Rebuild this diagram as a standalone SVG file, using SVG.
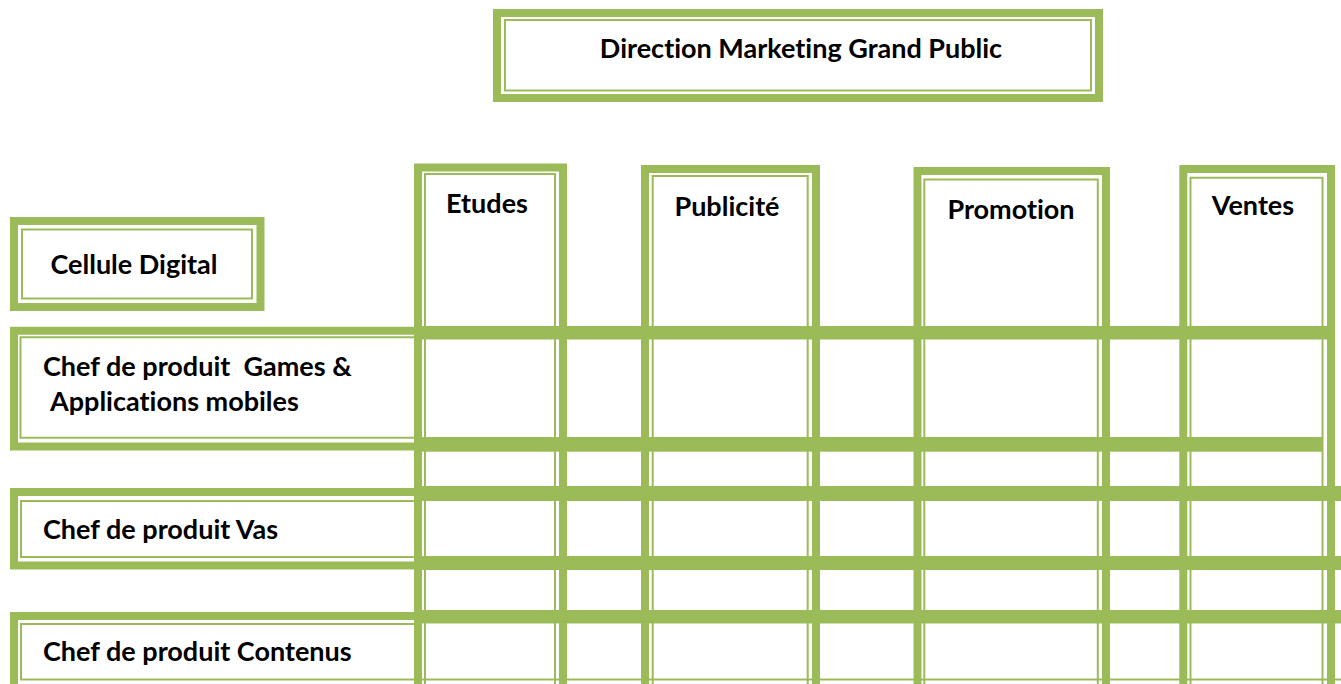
<svg xmlns="http://www.w3.org/2000/svg" width="1341" height="684" viewBox="0 0 1341 684">
  <style>
    .thick { fill: none; stroke: #9BBB59; stroke-width: 8; }
    .thin { fill: none; stroke: #9BBB59; stroke-width: 2; }
    .band { fill: #9BBB59; }
    .lbl { font-family: Lato, "Liberation Sans", sans-serif; font-weight: bold; font-size: 27px; fill: #000; font-variant-ligatures: none; font-feature-settings: "liga" 0; }
    .mid { text-anchor: middle; }
  </style>
  <rect width="1341" height="684" fill="#fff"/>

  <!-- thin inner rules (drawn first so the thick bands cover them) -->
  <g id="thin-rules">
    <!-- columns -->
    <path class="thin" d="M425 700 V174 H555 V700"/>
    <path class="thin" d="M652.7 700 V176 H807.7 V700"/>
    <path class="thin" d="M924.3 700 V179.5 H1097.8 V700"/>
    <path class="thin" d="M1190.5 700 V177.8 H1322.5 V700"/>
    <!-- rows, left part -->
    <path class="thin" d="M418 337.3 H20.5 V437.7 H418"/>
    <path class="thin" d="M418 501 H21 V557 H418"/>
    <path class="thin" d="M418 624 H21 V679.5 H1341"/>
  </g>

  <!-- top heading -->
  <g id="direction">
    <rect class="thick" x="497" y="13" width="602" height="85"/>
    <rect class="thin" x="505" y="20" width="586" height="70.5"/>
    <text class="lbl mid" x="801" y="58">Direction Marketing Grand Public</text>
  </g>

  <g id="cellule-digital">
    <rect class="thick" x="14" y="221" width="246.5" height="86"/>
    <rect class="thin" x="22" y="229.5" width="230" height="69"/>
    <text class="lbl mid" x="134" y="274">Cellule Digital</text>
  </g>

  <!-- activity columns -->
  <g id="col-etudes">
    <path class="thick" d="M418 700 V167.5 H563 V700"/>
    <text class="lbl mid" x="487" y="213">Etudes</text>
  </g>
  <g id="col-publicite">
    <path class="thick" d="M645 700 V169 H816 V700"/>
    <text class="lbl mid" x="727" y="216">Publicité</text>
  </g>
  <g id="col-promotion">
    <path class="thick" d="M917.5 700 V171 H1106 V700"/>
    <text class="lbl mid" x="1011" y="219">Promotion</text>
  </g>
  <g id="col-ventes">
    <path class="thick" d="M1183.3 700 V169 H1331 V700"/>
    <text class="lbl mid" x="1253" y="215">Ventes</text>
  </g>

  <!-- product manager rows -->
  <g id="row-games">
    <path class="thick" d="M418 330.7 H14 V446.5 H418"/>
    <rect class="band" x="414" y="326" width="921" height="13.5"/>
    <rect class="band" x="414" y="437" width="908" height="14.7"/>
    <text class="lbl" x="43" y="376" xml:space="preserve">Chef de produit  Games &amp;</text>
    <text class="lbl" x="50" y="411">Applications mobiles</text>
  </g>
  <g id="row-vas">
    <path class="thick" d="M418 492 H14 V565.5 H418"/>
    <rect class="band" x="414" y="486" width="927" height="15"/>
    <rect class="band" x="414" y="556" width="927" height="14"/>
    <text class="lbl" x="43" y="539">Chef de produit Vas</text>
  </g>
  <g id="row-contenus">
    <path class="thick" d="M418 616 H14 V700"/>
    <rect class="band" x="414" y="610" width="927" height="13.5"/>
    <text class="lbl" x="43" y="661">Chef de produit Contenus</text>
  </g>

  <g id="connectors"/>
</svg>
